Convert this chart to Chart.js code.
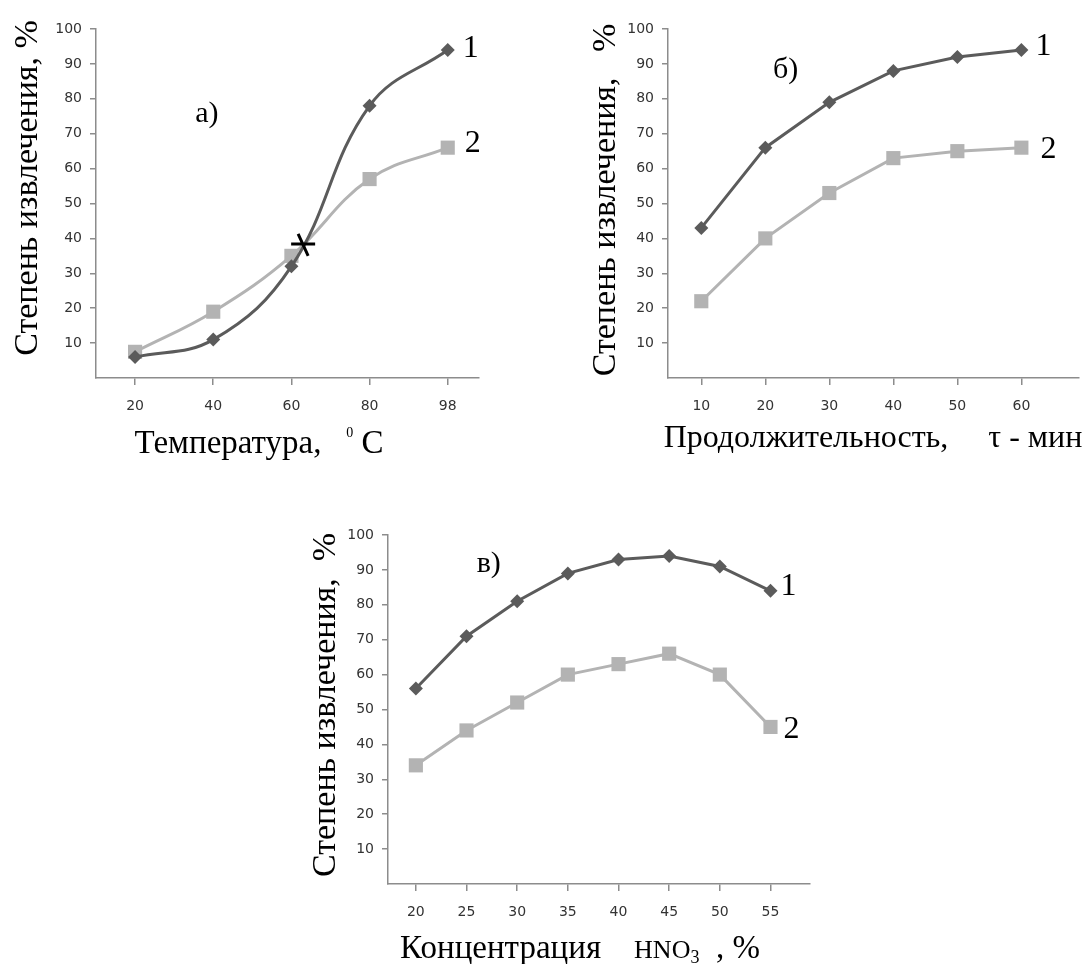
<!DOCTYPE html>
<html>
<head>
<meta charset="utf-8">
<script src="https://cdn.jsdelivr.net/npm/chart.js@4/dist/chart.umd.min.js"></script>
<style>
  html, body { margin: 0; padding: 0; background: #fff; }
  body { position: relative; width: 1089px; height: 964px; overflow: hidden; }
  canvas { position: absolute; }
</style>
</head>
<body>
<canvas id="chartA" width="500" height="470" style="left:0px;top:0px"></canvas>
<canvas id="chartB" width="509" height="470" style="left:580px;top:0px"></canvas>
<canvas id="chartC" width="530" height="454" style="left:290px;top:510px"></canvas>
<script>
// а) extraction vs temperature
const tempLabels = ['20', '40', '60', '80', '98'];
const tempSeries1 = [6, 11, 32, 78, 94];
const tempSeries2 = [7.5, 19, 35, 57, 66];
const tempCrossPoint = { x: 2.15, y: 38.4 };

// б) extraction vs duration
const timeLabels = ['10', '20', '30', '40', '50', '60'];
const timeSeries1 = [43, 66, 79, 88, 92, 94];
const timeSeries2 = [22, 40, 53, 63, 65, 66];

// в) extraction vs HNO3 concentration
const concLabels = ['20', '25', '30', '35', '40', '45', '50', '55'];
const concSeries1 = [56, 71, 81, 89, 93, 94, 91, 84];
const concSeries2 = [34, 44, 52, 60, 63, 66, 60, 45];

// shared value axis ticks
const yTickValues = [10, 20, 30, 40, 50, 60, 70, 80, 90, 100];
const seriesNames = ['1', '2'];

const DARK = '#5b5b5b';
const LIGHT = '#b3b3b3';
const AXIS = '#8c8c8c';
const TICK_TEXT = '#333';
const SERIF = '"Liberation Serif", "Times New Roman", serif';

function drawRuns(ctx, runs, x, y, rot) {
  ctx.save();
  ctx.translate(x, y);
  ctx.rotate(rot || 0);
  let total = 0;
  runs.forEach(r => {
    ctx.font = r.size + 'px ' + SERIF;
    r.w = ctx.measureText(r.t).width;
    total += r.w;
  });
  let cx = -total / 2;
  ctx.textAlign = 'left';
  ctx.textBaseline = 'alphabetic';
  ctx.fillStyle = '#000';
  runs.forEach(r => {
    ctx.font = r.size + 'px ' + SERIF;
    ctx.fillText(r.t, cx, r.dy || 0);
    cx += r.w;
  });
  ctx.restore();
}

// Draws curve numbers, panel letter, axis captions and the crossing mark
const annotations = {
  id: 'annotations',
  afterDatasetsDraw(chart, args, opts) {
    const ctx = chart.ctx;
    const xs = chart.scales.x, ys = chart.scales.y;
    ctx.save();
    // curve numbers next to the last point of each series
    opts.seriesTags.forEach((tag, i) => {
      const data = chart.data.datasets[i].data;
      const last = data[data.length - 1];
      ctx.font = '32px ' + SERIF;
      ctx.fillStyle = '#000';
      ctx.textAlign = 'left';
      ctx.textBaseline = 'alphabetic';
      ctx.fillText(seriesNames[i], xs.getPixelForValue(last.x) + tag.dx, ys.getPixelForValue(last.y) + tag.dy);
    });
    // panel letter
    const p = opts.panel;
    ctx.font = '30px ' + SERIF;
    ctx.fillText(p.text, xs.getPixelForValue(p.x), ys.getPixelForValue(p.y));
    // crossing mark
    if (opts.cross) {
      const cx = xs.getPixelForValue(opts.cross.x), cy = ys.getPixelForValue(opts.cross.y);
      ctx.strokeStyle = '#000';
      ctx.lineWidth = 3;
      ctx.beginPath();
      ctx.moveTo(cx - 12, cy); ctx.lineTo(cx + 12, cy);
      ctx.moveTo(cx - 5, cy - 10); ctx.lineTo(cx + 5, cy + 12);
      ctx.stroke();
    }
    ctx.restore();
    // axis captions
    const yc = opts.yCaption, xc = opts.xCaption;
    drawRuns(ctx, yc.runs, yc.x, yc.y, -Math.PI / 2);
    drawRuns(ctx, xc.runs, xc.x, xc.y, 0);
  }
};

function makeChart(id, cfg) {
  const canvas = document.getElementById(id);
  const W = canvas.width, H = canvas.height;
  const pts = arr => arr.map((v, i) => ({ x: i, y: v }));
  const tickFont = { family: '"DejaVu Sans", Verdana, sans-serif', size: 14 };
  return new Chart(canvas, {
    type: 'line',
    data: {
      datasets: [
        {
          data: pts(cfg.s1), borderColor: DARK, backgroundColor: DARK, borderWidth: 3,
          pointStyle: 'rectRot', pointRadius: 7, pointBorderWidth: 0, tension: cfg.tension
        },
        {
          data: pts(cfg.s2), borderColor: LIGHT, backgroundColor: LIGHT, borderWidth: 3,
          pointStyle: 'rect', pointRadius: 10, pointBorderWidth: 0, tension: cfg.tension
        }
      ]
    },
    options: {
      responsive: false,
      animation: false,
      events: [],
      layout: { padding: { top: cfg.area.top, right: W - cfg.area.right, left: 0, bottom: 0 } },
      plugins: {
        legend: { display: false },
        tooltip: { enabled: false },
        annotations: cfg.annotations
      },
      scales: {
        x: {
          type: 'linear', min: cfg.xMin, max: cfg.xMax,
          afterFit: s => { s.height = H - cfg.area.bottom; },
          afterBuildTicks: s => { s.ticks = cfg.labels.map((_, i) => ({ value: i })); },
          ticks: {
            callback: v => cfg.labels[v], autoSkip: false, maxRotation: 0,
            font: tickFont, color: TICK_TEXT, padding: 13
          },
          grid: { drawOnChartArea: false, tickLength: 7, color: AXIS, lineWidth: 1.5 },
          border: { color: AXIS, width: 1.5 }
        },
        y: {
          min: 0, max: 100,
          afterFit: s => { s.width = cfg.area.left; },
          afterBuildTicks: s => { s.ticks = yTickValues.map(v => ({ value: v })); },
          ticks: { font: tickFont, color: TICK_TEXT, padding: 8 },
          grid: { drawOnChartArea: false, tickLength: 6, color: AXIS, lineWidth: 1.5 },
          border: { color: AXIS, width: 1.5 }
        }
      }
    },
    plugins: [annotations]
  });
}

const yRuns = gap => [{ t: 'Степень извлечения,' + gap + '%', size: 34 }];

makeChart('chartA', {
  labels: tempLabels, s1: tempSeries1, s2: tempSeries2, tension: 0.4,
  area: { left: 96, top: 29, right: 479, bottom: 378 }, xMin: -0.5, xMax: 4.4,
  annotations: {
    seriesTags: [{ dx: 15, dy: 7 }, { dx: 17, dy: 4 }],
    panel: { text: 'а)', x: 0.77, y: 73.4 },
    cross: tempCrossPoint,
    yCaption: { runs: yRuns(' '), x: 37, y: 188 },
    xCaption: {
      runs: [{ t: 'Температура,   ', size: 33 }, { t: '0', size: 14, dy: -16 }, { t: ' C', size: 33 }],
      x: 259, y: 453
    }
  }
});

makeChart('chartB', {
  labels: timeLabels, s1: timeSeries1, s2: timeSeries2, tension: 0,
  area: { left: 88, top: 29, right: 508, bottom: 378 }, xMin: -0.52, xMax: 5.9,
  annotations: {
    seriesTags: [{ dx: 14, dy: 5 }, { dx: 19, dy: 10 }],
    panel: { text: 'б)', x: 1.12, y: 86 },
    yCaption: { runs: yRuns('   '), x: 35, y: 200 },
    xCaption: { runs: [{ t: 'Продолжительность,     τ - мин', size: 32 }], x: 293, y: 447 }
  }
});

makeChart('chartC', {
  labels: concLabels, s1: concSeries1, s2: concSeries2, tension: 0,
  area: { left: 98, top: 25, right: 523, bottom: 374 }, xMin: -0.55, xMax: 7.78,
  annotations: {
    seriesTags: [{ dx: 10, dy: 4 }, { dx: 13, dy: 11 }],
    panel: { text: 'в)', x: 1.2, y: 89.4 },
    yCaption: { runs: yRuns('  '), x: 45, y: 195 },
    xCaption: {
      runs: [
        { t: 'Концентрация    ', size: 33 }, { t: 'HNO', size: 26 }, { t: '3', size: 18, dy: 5 },
        { t: '  , %', size: 33 }
      ],
      x: 290, y: 448
    }
  }
});
</script>
</body>
</html>
